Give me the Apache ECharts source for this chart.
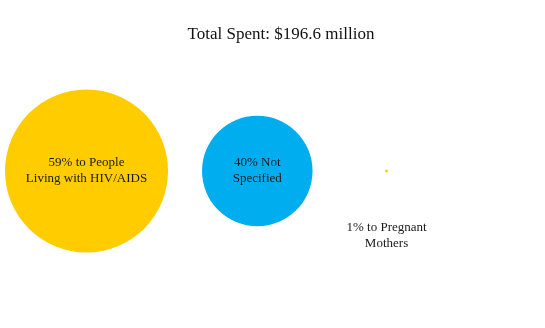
<!DOCTYPE html>
<html>
<head>
<meta charset="utf-8">
<script src="https://cdn.jsdelivr.net/npm/echarts@6/dist/echarts.min.js"></script>
<style>
  html, body { margin: 0; padding: 0; background: #fff; }
  #chart { width: 545px; height: 328px; }
</style>
</head>
<body>
<div id="chart"></div>
<script>
// Share of total spending by recipient group (percent)
const categories = ['59% to People\nLiving with HIV/AIDS', '40% Not\nSpecified', '1% to Pregnant\nMothers'];
const shares = [59, 40, 1];
const colors = ['#FFCC00', '#00AEEF', '#FFCC00'];
const titleText = 'Total Spent: $196.6 million';

// Circle diameter grows linearly with the share
const pxPerPercent = 2.763;
const leftPad = 5;
const gap = 34;
const minSlot = 80;      // room kept for labels drawn under tiny circles
const insideMin = 60;    // circles at least this wide hold their own label

// Lay circles out left to right, each in a slot as wide as the circle or its label
const points = [];
let cursor = leftPad;
shares.forEach(function (v, i) {
  const d = v * pxPerPercent;
  const inside = d >= insideMin;
  const slot = inside ? d : Math.max(d, minSlot);
  const cx = cursor + slot / 2;
  cursor += slot + gap;
  points.push({
    value: [cx, 0],
    symbolSize: d,
    itemStyle: { color: colors[i], opacity: 1 },
    label: inside
      ? { show: true, position: 'inside', formatter: categories[i] }
      : { show: true, position: 'bottom', distance: 47, formatter: categories[i] }
  });
});

const chart = echarts.init(document.getElementById('chart'), null, { renderer: 'canvas' });
chart.setOption({
  animation: false,
  backgroundColor: '#ffffff',
  title: {
    text: titleText,
    left: 276,
    top: 21,
    textAlign: 'center',
    textStyle: {
      fontFamily: 'Liberation Serif',
      fontSize: 17,
      fontWeight: 'normal',
      color: '#111'
    }
  },
  grid: { left: 0, right: 0, top: 71, bottom: 57 },
  xAxis: { type: 'value', min: 0, max: 545, show: false },
  yAxis: { type: 'value', min: -1, max: 1, show: false },
  series: [{
    type: 'scatter',
    symbol: 'circle',
    data: points,
    label: {
      fontFamily: 'Liberation Serif',
      fontSize: 13,
      lineHeight: 16,
      color: '#1a1a1a',
      align: 'center'
    },
    emphasis: { disabled: true }
  }]
});
</script>
</body>
</html>
